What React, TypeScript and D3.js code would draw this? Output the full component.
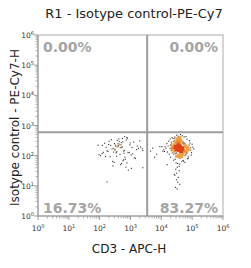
import React from "react";
import * as d3 from "d3";

const TITLE = "R1 - Isotype control-PE-Cy7";
const X_LABEL = "CD3 - APC-H";
const Y_LABEL = "Isotype control - PE-Cy7-H";
const DECADES = [0, 1, 2, 3, 4, 5, 6];
const QUAD_X = 3470;
const QUAD_Y = 600;
const QUAD_LABELS = ["0.00%", "0.00%", "16.73%", "83.27%"]; // UL, UR, LL, LR

// log10 values of events
const rightX = [
  4.52, 4.61, 4.57, 4.66, 4.49, 4.55, 4.63, 4.58, 4.70, 4.47, 4.60, 4.54, 4.68, 4.51, 4.59, 4.64, 4.56, 4.62, 4.45, 4.57,
  4.53, 4.67, 4.60, 4.50, 4.58, 4.65, 4.55, 4.61, 4.48, 4.72, 4.56, 4.59, 4.63, 4.52, 4.57, 4.69, 4.54, 4.62, 4.58, 4.46,
  4.60, 4.55, 4.66, 4.51, 4.59, 4.64, 4.57, 4.53, 4.61, 4.58, 4.49, 4.56, 4.63, 4.60, 4.54, 4.67, 4.57, 4.62, 4.52, 4.59,
  4.35, 4.78, 4.42, 4.83, 4.30, 4.71, 4.39, 4.88, 4.44, 4.75, 4.33, 4.80, 4.48, 4.69, 4.37, 4.86, 4.41, 4.74, 4.28, 4.79,
  4.46, 4.82, 4.36, 4.73, 4.50, 4.85, 4.32, 4.77, 4.43, 4.70, 4.38, 4.89, 4.47, 4.76, 4.31, 4.81, 4.40, 4.72, 4.34, 4.84,
  4.56, 4.61, 4.53, 4.65, 4.58, 4.49, 4.63, 4.55, 4.67, 4.52, 4.60, 4.57, 4.64, 4.51, 4.59, 4.62, 4.54, 4.68, 4.50, 4.66,
  4.45, 4.74, 4.40, 4.79, 4.36, 4.71, 4.43, 4.83, 4.33, 4.77, 4.57, 4.60, 4.55, 4.62, 4.58, 4.53, 4.64, 4.56, 4.61, 4.59,
  4.15, 4.95, 4.22, 5.02, 4.10, 4.90, 4.26, 4.98, 4.18, 4.93, 4.30, 5.05, 4.12, 4.87, 4.24, 4.97, 4.20, 4.91, 4.08, 5.00,
  4.40, 4.72, 4.35, 4.80, 4.45, 4.68, 4.29, 4.85, 4.50, 4.76, 4.60, 4.42, 4.66, 4.55, 4.38, 4.83, 4.48, 4.70, 4.33, 4.88,
  4.02, 4.05, 4.95, 4.19, 4.62, 4.53, 4.74, 4.44, 4.58, 4.81,
  4.52, 4.47, 4.58, 4.50, 4.44, 4.55, 4.49, 4.53, 4.60, 4.46, 4.51, 4.42,
  4.56, 4.60, 4.54, 4.62, 4.57, 4.59, 4.55, 4.61, 4.58, 4.56, 4.60, 4.57, 4.53, 4.59, 4.63, 4.55, 4.58, 4.61, 4.56, 4.59,
];
const rightY = [
  2.27, 2.20, 2.31, 2.24, 2.18, 2.29, 2.22, 2.35, 2.26, 2.21, 2.16, 2.30, 2.25, 2.33, 2.19, 2.28, 2.23, 2.14, 2.26, 2.32,
  2.24, 2.20, 2.37, 2.27, 2.17, 2.22, 2.30, 2.25, 2.29, 2.19, 2.34, 2.23, 2.15, 2.28, 2.21, 2.26, 2.36, 2.24, 2.18, 2.31,
  2.27, 2.22, 2.13, 2.29, 2.25, 2.20, 2.33, 2.26, 2.17, 2.23, 2.28, 2.24, 2.32, 2.19, 2.27, 2.21, 2.30, 2.25, 2.22, 2.16,
  2.22, 2.30, 2.15, 2.26, 2.34, 2.18, 2.28, 2.21, 2.38, 2.12, 2.25, 2.33, 2.09, 2.41, 2.19, 2.27, 2.36, 2.14, 2.24, 2.31,
  2.43, 2.11, 2.29, 2.37, 2.08, 2.23, 2.17, 2.40, 2.32, 2.06, 2.26, 2.20, 2.44, 2.13, 2.35, 2.28, 2.05, 2.39, 2.21, 2.16,
  2.50, 2.46, 2.52, 2.01, 2.48, 1.98, 2.04, 2.55, 2.47, 2.00, 1.96, 2.53, 2.03, 2.49, 1.99, 2.51, 2.45, 2.02, 2.56, 1.97,
  2.07, 2.42, 2.47, 2.03, 2.10, 2.45, 2.50, 2.08, 2.39, 2.00, 2.58, 1.94, 2.43, 2.06, 2.54, 1.95, 2.49, 2.02, 2.60, 1.99,
  2.25, 2.18, 2.32, 2.28, 2.14, 2.35, 2.05, 2.10, 2.40, 2.42, 1.95, 2.22, 2.30, 1.98, 2.48, 2.02, 2.12, 2.50, 2.20, 2.38,
  1.85, 1.82, 2.60, 2.63, 1.88, 2.66, 2.55, 1.90, 2.68, 1.78, 1.72, 2.58, 1.80, 2.64, 2.57, 2.55, 1.76, 1.84, 2.45, 1.92,
  2.30, 2.15, 2.26, 1.70, 2.70, 1.74, 2.62, 2.62, 1.65, 2.08,
  1.62, 1.55, 1.50, 1.42, 1.35, 1.28, 1.20, 1.12, 1.05, 0.95, 0.90, 1.38,
  2.24, 2.27, 2.21, 2.25, 2.29, 2.19, 2.26, 2.22, 2.30, 2.23, 2.20, 2.25, 2.27, 2.28, 2.24, 2.18, 2.26, 2.21, 2.23, 2.29,
];
const leftX = [
  2.58, 2.80, 2.48, 2.92, 2.36, 2.75, 2.66, 3.05, 2.27, 2.86, 2.55, 2.98, 2.40, 2.79, 2.70, 3.12, 2.21, 2.90, 2.45, 2.63,
  3.02, 2.31, 2.83, 2.52, 3.20, 2.16, 2.76, 2.62, 2.96, 2.34, 2.88, 2.47, 3.26, 2.09, 2.71, 2.57, 3.07, 2.24, 2.81, 2.68,
  3.33, 2.03, 2.99, 2.43, 2.74, 2.53, 3.16, 2.29, 2.85, 2.64, 3.38, 1.98, 3.03, 2.38, 2.56, 2.77, 3.22, 2.19, 2.93, 2.60,
  3.40, 2.08, 3.10, 2.42, 2.67, 2.82, 3.30, 2.12, 2.89, 2.51, 2.72, 2.58, 2.50, 2.69, 2.44, 2.78, 2.61, 2.49, 2.73, 2.54,
  2.24, 3.72, 3.85, 3.95, 3.78, 3.65, 1.95, 3.40,
];
const leftY = [
  2.30, 2.18, 2.40, 2.10, 2.34, 2.46, 2.04, 2.27, 2.14, 2.52, 1.98, 2.36, 2.22, 2.08, 2.43, 1.93, 2.28, 2.58, 2.12, 2.38,
  2.02, 2.48, 1.88, 2.31, 2.20, 2.41, 1.83, 2.55, 2.10, 1.96, 2.60, 1.78, 2.24, 2.34, 1.74, 2.50, 2.06, 2.16, 2.63, 1.70,
  2.29, 2.00, 2.42, 1.66, 2.57, 2.09, 1.91, 2.37, 1.62, 2.47, 2.23, 2.03, 1.58, 2.53, 2.13, 1.86, 2.32, 1.97, 1.52, 2.40,
  2.17, 2.07, 2.45, 1.81, 2.27, 1.95, 2.49, 2.11, 1.76, 2.35, 2.26, 2.31, 2.19, 2.36, 2.24, 2.15, 2.33, 2.21, 2.29, 2.12,
  1.13, 2.25, 2.05, 2.30, 1.95, 2.15, 2.35, 1.60,
];

const W = 251;
const H = 268;
const L = 38, R = 223, T = 35, B = 216;

export default function App() {
  const x = d3.scaleLog().domain([1, 1e6]).range([L, R]);
  const y = d3.scaleLog().domain([1, 1e6]).range([B, T]);

  const events = [
    ...rightX.map((v, i) => [Math.pow(10, v), Math.pow(10, rightY[i])]),
    ...leftX.map((v, i) => [Math.pow(10, v), Math.pow(10, leftY[i])]),
  ].map(([a, b]) => ({ px: x(a), py: y(b) }));

  const quad = d3.quadtree<{ px: number; py: number }>()
    .x((d) => d.px)
    .y((d) => d.py)
    .addAll(events);
  const rad = 3.5;
  const dens = events.map((e) => {
    let n = 0;
    quad.visit((node: any, x0, y0, x1, y1) => {
      if (!node.length) {
        let nd = node;
        do {
          const d = nd.data;
          if (Math.hypot(d.px - e.px, d.py - e.py) < rad) n++;
        } while ((nd = nd.next));
      }
      return x0 > e.px + rad || x1 < e.px - rad || y0 > e.py + rad || y1 < e.py - rad;
    });
    return n;
  });
  const order = d3.range(events.length).sort((a, b) => dens[a] - dens[b]);
  const colorOf = (n: number) =>
    n >= 30 ? "#e2431b" : n >= 18 ? "#ef7a22" : n >= 12 ? "#f0a040" : n >= 8 ? "#a8875a" : n >= 5 ? "#5a4c3e" : "#2e2e2e";
  const sizeOf = (n: number) => (n >= 12 ? 2.7 : n >= 8 ? 1.5 : 1.1);

  const minors: number[] = [];
  for (let k = 0; k < 6; k++) for (let m = 2; m <= 9; m++) minors.push(m * Math.pow(10, k));
  const majors = DECADES.map((k) => Math.pow(10, k));

  const gx = x(QUAD_X);
  const gy = y(QUAD_Y);
  const tickColor = "#9a9a9a";
  const pctStyle = { fontFamily: "DejaVu Sans", fontWeight: 700, fontSize: 14, fill: "#a5a5a5" } as const;

  return (
    <svg width={W} height={H} style={{ position: "absolute", left: 0, top: 0, background: "#fff" }}>
      <rect x={0} y={0} width={W} height={H} fill="#fff" />
      <text x={134} y={18} textAnchor="middle" fontFamily="DejaVu Sans" fontSize={13} fill="#222">
        {TITLE}
      </text>
      {/* plot frame */}
      <rect x={L} y={T} width={R - L} height={B - T} fill="none" stroke="#c8c8c8" strokeWidth={1.5} />
      {/* events */}
      {order.map((i) => {
        const e = events[i];
        const s = sizeOf(dens[i]);
        return <rect key={i} x={e.px - s / 2} y={e.py - s / 2} width={s} height={s} fill={colorOf(dens[i])} />;
      })}
      {/* quadrant gates */}
      <line x1={gx} x2={gx} y1={T} y2={B} stroke="#9c9c9c" strokeWidth={2} />
      <line x1={L} x2={R} y1={gy} y2={gy} stroke="#9c9c9c" strokeWidth={2} />
      {/* axes */}
      <line x1={L} x2={L} y1={T} y2={B} stroke={tickColor} strokeWidth={1} />
      <line x1={L} x2={R} y1={B} y2={B} stroke={tickColor} strokeWidth={1} />
      {minors.map((v, i) => (
        <g key={"m" + i}>
          <line x1={L - 2.5} x2={L} y1={y(v)} y2={y(v)} stroke={tickColor} strokeWidth={0.8} />
          <line x1={x(v)} x2={x(v)} y1={B} y2={B + 2.5} stroke={tickColor} strokeWidth={0.8} />
        </g>
      ))}
      {majors.map((v, i) => (
        <g key={"M" + i}>
          <line x1={L - 4} x2={L} y1={y(v)} y2={y(v)} stroke={tickColor} strokeWidth={1} />
          <line x1={x(v)} x2={x(v)} y1={B} y2={B + 4} stroke={tickColor} strokeWidth={1} />
          <text x={L - 4} y={y(v) + 3} textAnchor="end" fontFamily="DejaVu Sans" fontSize={7.5} fill="#333">
            10
            <tspan fontSize={5} dy={-3}>{DECADES[i]}</tspan>
          </text>
          <text x={x(v)} y={231} textAnchor="middle" fontFamily="DejaVu Sans" fontSize={7.5} fill="#333">
            10
            <tspan fontSize={5} dy={-3}>{DECADES[i]}</tspan>
          </text>
        </g>
      ))}
      {/* quadrant percentages */}
      <text x={L + 5} y={T + 17} style={pctStyle}>{QUAD_LABELS[0]}</text>
      <text x={R - 5} y={T + 17} textAnchor="end" style={pctStyle}>{QUAD_LABELS[1]}</text>
      <text x={L + 5} y={B - 3} style={pctStyle}>{QUAD_LABELS[2]}</text>
      <text x={R - 5} y={B - 3} textAnchor="end" style={pctStyle}>{QUAD_LABELS[3]}</text>
      {/* axis labels */}
      <text x={129} y={253} textAnchor="middle" fontFamily="DejaVu Sans" fontSize={12} fill="#222">
        {X_LABEL}
      </text>
      <text
        transform={`translate(19,${(T + B) / 2 + 2}) rotate(-90)`}
        textAnchor="middle"
        fontFamily="DejaVu Sans"
        fontSize={12}
        fill="#222"
      >
        {Y_LABEL}
      </text>
    </svg>
  );
}
